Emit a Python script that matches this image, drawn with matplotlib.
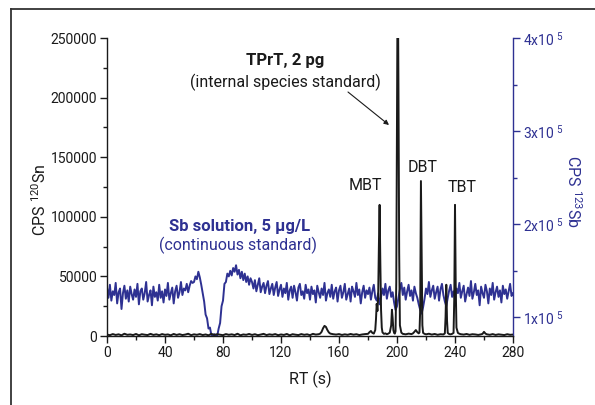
import numpy as np
import matplotlib
matplotlib.use('Agg')
import matplotlib.pyplot as plt
from matplotlib.ticker import MultipleLocator, FixedLocator, FuncFormatter
from matplotlib.lines import Line2D

# ---------------- data ----------------
# Sn trace (CPS 120Sn): retention time (s) and counts
sn_rt = [0, 2, 4, 6, 8, 10, 12, 14, 16, 18, 20, 22, 24, 26, 28, 30, 32, 34, 36, 38,
         40, 42, 44, 46, 48, 50, 52, 54, 56, 58, 60, 62, 64, 66, 68, 70, 72, 74, 76, 78,
         80, 82, 84, 86, 88, 90, 92, 94, 96, 98, 100, 102, 104, 106, 108, 110, 112, 114,
         116, 118, 120, 122, 124, 126, 128, 130, 132, 134, 136, 138, 140, 142, 144, 146,
         147, 148, 149, 150, 151, 152, 153, 154, 156, 158, 160, 162, 164, 166, 168, 170,
         172, 174, 176, 178,
         180, 181, 182, 183, 184, 185, 185.5, 186, 186.5, 187, 187.5, 188, 188.5, 189,
         189.5, 190, 191, 192, 193, 194, 195, 196, 196.5, 197, 197.5, 198, 198.5,
         199, 199.5, 200, 200.5, 201, 201.5, 202, 203, 204, 206, 208, 210, 211, 212, 213,
         214, 215, 215.5, 216, 216.5, 217, 217.5, 218, 219, 220, 222, 224, 226, 228, 230, 232,
         233, 233.5, 234, 234.5, 235, 236, 237, 238, 239, 239.5, 240, 240.5, 241, 242, 243,
         244, 246, 248, 250, 252, 254, 256, 258, 259, 260, 261, 262, 264, 266, 268, 270,
         272, 274, 276, 278, 280]
sn_cps = [1200, 700, 1600, 900, 1400, 600, 1900, 1000, 1300, 800,
          1700, 600, 1500, 1100, 800, 1800, 900, 1400, 700, 1600,
          1000, 1300, 600, 1700, 900, 1500, 800, 1200, 1900, 700,
          1400, 1000, 1600, 800, 1300, 600, 1800, 900, 1500, 1100,
          700, 1600, 1000, 1400, 800, 1900, 600, 1300, 1000, 1700,
          900, 1500, 700, 1200, 1800, 800, 1400, 1000, 1600, 700,
          1300, 900, 1700, 600, 1500, 1100, 800, 1600, 1000, 1400,
          700, 1800, 1200, 1500,
          2000, 3500, 6500, 8500, 7600, 5000, 3000, 2000, 1500, 1200,
          1600, 900, 1400, 1000, 1700, 1100, 1500, 800, 1300, 1600,
          1800, 3200, 4200, 2600, 2000, 5000, 14000, 27000, 21000, 32000,
          75000, 110000, 62000, 22000, 7000, 3000, 1800, 2200, 1500, 2000,
          2800, 9000, 22000, 15000, 5000, 2600, 2000,
          4000, 45000, 190000, 320000, 210000, 70000, 9000, 2800, 1800, 1400,
          2000, 1600, 2200, 3500, 5000, 3200, 2200, 3000, 22000, 130000,
          65000, 9000, 2600, 1800, 1400, 1900, 1200, 1700, 1000, 1500, 1300,
          2200, 16000, 43000, 13000, 2500, 1600, 1400, 1800, 2600, 32000,
          110000, 42000, 7000, 2600, 1900, 1500, 1200, 1700, 1000, 1500,
          1300, 900, 1400, 1800, 3500, 2000, 1400, 1000, 1600, 900,
          1400, 1100, 800, 1500, 1000, 1200]

# Sb trace (CPS 123Sb), one reading per second from RT 0 to 280, in thousands of counts
sb_kcps = [
    132, 121, 135, 118, 128, 124, 137, 115, 127, 131, 109, 126, 134, 120, 129, 117, 133, 125, 119, 130,
    122, 136, 114, 128, 131, 119, 126, 138, 117, 124, 129, 113, 133, 122, 127, 118, 135, 121, 128, 116,
    130, 123, 137, 119, 126, 132, 115, 128, 134, 121, 127, 138, 124, 131, 129, 136, 127, 134, 139, 137,
    138, 144, 141, 149, 143, 135, 126, 117, 103, 99, 88, 89, 81, 80, 82, 80, 80, 88, 94, 112,
    118, 136, 138, 147, 144, 150, 145, 153, 149, 156, 146, 151, 142, 149, 140, 147, 138, 144, 135, 142,
    138, 131, 140, 128, 135, 142, 127, 133, 137, 126, 134, 139, 125, 131, 136, 124, 132, 138, 123, 130,
    135, 122, 131, 126, 137, 119, 129, 133, 121, 134, 127, 118, 132, 136, 124, 128, 120, 135, 126, 130,
    119, 133, 125, 129, 116, 134, 127, 121, 131, 124, 137, 118, 126, 130, 122, 135, 120, 128, 132, 117,
    129, 134, 121, 127, 136, 119, 125, 131, 117, 133, 128, 122, 137, 124, 130, 115, 127, 134, 121, 129,
    125, 132, 119, 128, 135, 121, 118, 126, 114, 122, 131, 124, 136, 120, 129, 133, 122, 127, 116, 108,
    112, 121, 130, 137, 124, 132, 119, 128, 135, 123, 129, 118, 133, 126, 121, 114, 108, 104, 111, 120,
    131, 125, 138, 122, 129, 134, 120, 127, 133, 118, 130, 136, 124, 117, 112, 121, 129, 135, 122, 128,
    119, 131, 126, 137, 121, 128, 134, 117, 125, 132, 123, 139, 120, 127, 136, 124, 129, 113, 133, 126,
    121, 135, 128, 115, 131, 124, 137, 119, 127, 133, 122, 129, 116, 134, 125, 130, 120, 128, 136, 123,
    126]

x_ticks = [0, 40, 80, 120, 160, 200, 240, 280]
left_ticks = [0, 50000, 100000, 150000, 200000, 250000]
right_ticks = [1e5, 2e5, 3e5, 4e5]

# ---------------- style ----------------
FONT = 'Roboto'
plt.rcParams['font.family'] = [FONT, 'DejaVu Sans']
plt.rcParams['mathtext.fontset'] = 'custom'
plt.rcParams['mathtext.rm'] = FONT
plt.rcParams['mathtext.it'] = FONT + ':italic'
plt.rcParams['mathtext.bf'] = FONT + ':bold'

BLUE = '#2E3192'
BLACK = '#1a1a1a'
W, H = 595, 405


def fx(px):
    return px / W


def fy(py):
    return 1 - py / H


fig = plt.figure(figsize=(W / 100, H / 100), dpi=100)
ax = fig.add_axes([fx(107), fy(336), (513 - 107) / W, (336 - 38) / H])
ax2 = ax.twinx()

sb_rt = np.arange(len(sb_kcps))
sb_cps = np.array(sb_kcps) * 1000.0
ax2.plot(sb_rt, sb_cps, color=BLUE, lw=1.4)
ax.plot(sn_rt, sn_cps, color=BLACK, lw=1.4)
ax.set_zorder(ax2.get_zorder() + 1)
ax.patch.set_visible(False)

ax.set_xlim(0, 280)
ax.set_ylim(0, 250000)
ax2.set_ylim(0.8e5, 4e5)

for a in (ax, ax2):
    a.spines['top'].set_visible(False)
ax.spines['right'].set_visible(False)
ax2.spines['left'].set_visible(False)
ax2.spines['bottom'].set_visible(False)
ax2.spines['right'].set_color(BLUE)
ax.spines['left'].set_color(BLACK)
ax.spines['bottom'].set_color(BLACK)
for s in ('left', 'bottom'):
    ax.spines[s].set_linewidth(1.0)
ax2.spines['right'].set_linewidth(1.0)

ax.xaxis.set_major_locator(FixedLocator(x_ticks))
ax.xaxis.set_minor_locator(MultipleLocator(20))
ax.yaxis.set_major_locator(FixedLocator(left_ticks))
ax.yaxis.set_minor_locator(MultipleLocator(25000))
ax.yaxis.set_major_formatter(FuncFormatter(lambda v, p: f'{int(v)}'))
ax2.yaxis.set_major_locator(FixedLocator(right_ticks))
ax2.yaxis.set_minor_locator(FixedLocator([1.5e5, 2.5e5, 3.5e5]))
ax2.yaxis.set_major_formatter(FuncFormatter(lambda v, p: rf'{int(round(v / 1e5))}x10$^{{\ 5}}$'))

ax.tick_params(axis='both', which='major', direction='out', length=5, width=1,
               labelsize=10, colors=BLACK, pad=2)
ax.tick_params(axis='both', which='minor', direction='out', length=3, width=1, colors=BLACK)
ax2.tick_params(axis='y', which='major', direction='out', length=5, width=1,
                labelsize=10, colors=BLUE, pad=2)
ax2.tick_params(axis='y', which='minor', direction='out', length=3, width=1, colors=BLUE)

# labels
fig.text(fx(310), fy(379), 'RT (s)', ha='center', va='center', fontsize=11.5, color=BLACK)
fig.text(fx(40), fy(200), r'CPS $^{120}$Sn', ha='center', va='center', rotation=90,
         fontsize=11.5, color=BLACK)
fig.text(fx(573), fy(192), r'CPS $^{123}$Sb', ha='center', va='center', rotation=270,
         fontsize=11.5, color=BLUE)

# annotations
fig.text(fx(285), fy(60), 'TPrT, 2 pg', ha='center', va='center', fontsize=12,
         fontweight='bold', color=BLACK)
fig.text(fx(285), fy(82), '(internal species standard)', ha='center', va='center',
         fontsize=11.5, color=BLACK)
fig.text(fx(365), fy(186), 'MBT', ha='center', va='center', fontsize=11.5, color=BLACK)
fig.text(fx(423), fy(167), 'DBT', ha='center', va='center', fontsize=11.5, color=BLACK)
fig.text(fx(462), fy(188), 'TBT', ha='center', va='center', fontsize=11.5, color=BLACK)
fig.text(fx(240), fy(226), 'Sb solution, 5 \u03bcg/L', ha='center', va='center', fontsize=12,
         fontweight='bold', color=BLUE)
fig.text(fx(238), fy(245), '(continuous standard)', ha='center', va='center',
         fontsize=11.5, color=BLUE)

ax.annotate('', xy=(fx(389), fy(125)), xycoords='figure fraction',
            xytext=(fx(348), fy(92)), textcoords='figure fraction',
            arrowprops=dict(arrowstyle='-|>', color=BLACK, lw=0.8,
                            mutation_scale=7, shrinkA=0, shrinkB=0))

# outer frame (top and left edges visible)
fig.add_artist(Line2D([fx(11), fx(11)], [0, fy(9)], transform=fig.transFigure,
                      color='#333333', lw=1.3))
fig.add_artist(Line2D([fx(11), 1], [fy(9), fy(9)], transform=fig.transFigure,
                      color='#333333', lw=1.3))

fig.savefig('out.png', dpi=100)
